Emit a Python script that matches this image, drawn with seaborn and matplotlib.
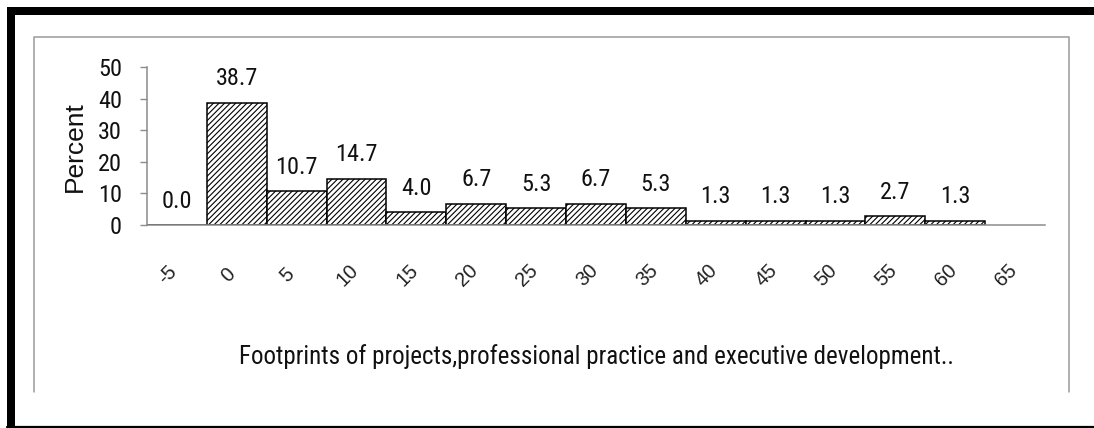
import matplotlib
matplotlib.use("Agg")
import matplotlib.pyplot as plt
from matplotlib.patches import Rectangle
from matplotlib.lines import Line2D
from matplotlib.transforms import ScaledTranslation
import seaborn as sns
import pandas as pd

# Distribution of footprints (bins of width 5) and share of respondents
bin_labels = ["-5", "0", "5", "10", "15", "20", "25", "30", "35", "40", "45", "50", "55", "60", "65"]
bar_bins = ["-5", "0", "5", "10", "15", "20", "25", "30", "35", "40", "45", "50", "55", "60"]
percents = [0.0, 38.7, 10.7, 14.7, 4.0, 6.7, 5.3, 6.7, 5.3, 1.3, 1.3, 1.3, 2.7, 1.3]
y_ticks = [0, 10, 20, 30, 40, 50]

sns.set_theme(style="white")
NARROW = ["Roboto Condensed", "Archivo Narrow", "Liberation Sans", "DejaVu Sans"]
REGULAR = ["Liberation Sans", "DejaVu Sans"]
plt.rcParams["font.family"] = NARROW
plt.rcParams["hatch.linewidth"] = 0.8

W, H = 1094, 428
fig = plt.figure(figsize=(W / 100, H / 100), dpi=100)
fig.patch.set_facecolor("white")

def fx(x):
    return x / W

def fy(y):
    return 1 - y / H

# outer black border (top, left and bottom edges)
fig.add_artist(Rectangle((fx(7), fy(15)), fx(W - 7), 8 / H, transform=fig.transFigure,
                         facecolor="black", edgecolor="none"))
fig.add_artist(Rectangle((fx(7), 0), 8 / W, fy(7), transform=fig.transFigure,
                         facecolor="black", edgecolor="none"))
fig.add_artist(Line2D([fx(7), 1], [fy(426.5), fy(426.5)], transform=fig.transFigure,
                      color="black", lw=1.6))

# grey chart-area frame, open at the bottom
frame_c = "#9a9a9a"
fig.add_artist(Line2D([fx(34), fx(34), fx(1069), fx(1069)],
                      [fy(392), fy(37), fy(37), fy(392)],
                      transform=fig.transFigure, color=frame_c, lw=1.1))

ax = fig.add_axes([fx(147), fy(225), fx(1045) - fx(147), (225 - 67) / H])
ax.set_facecolor("none")

df = pd.DataFrame({"bin": bar_bins, "percent": percents})
sns.barplot(data=df, x="bin", y="percent", order=bin_labels, color="white",
            saturation=1, width=1.0, edgecolor="black", linewidth=1.1,
            hatch="//////", ax=ax)

ax.bar_label(ax.containers[0], fmt="%.1f", padding=9, fontsize=17.5, color="#111111")

ax.set_ylim(0, 50)
ax.set_yticks(y_ticks)
ax.set_yticklabels([str(t) for t in y_ticks], fontsize=17.5, color="#111111")
ax.set_xlim(-0.5, len(bin_labels) - 0.5)

for side in ("top", "right"):
    ax.spines[side].set_visible(False)
for side in ("left", "bottom"):
    ax.spines[side].set_color("#8c8c8c")
    ax.spines[side].set_linewidth(1.1)
ax.spines["left"].set_bounds(0, 50)

ax.tick_params(axis="y", direction="out", length=5, width=1.0, color="#8c8c8c",
               pad=13, left=True)
ax.tick_params(axis="x", length=0, pad=36)

ax.set_xticks(range(len(bin_labels)))
ax.set_xticklabels(bin_labels, rotation=45, ha="center", va="center",
                   fontsize=14.5, color="#222222", family=REGULAR)
shift = ScaledTranslation(-9 / 100, 0, fig.dpi_scale_trans)
for lab in ax.get_xticklabels():
    lab.set_transform(lab.get_transform() + shift)

ax.set_xlabel("")
ax.set_ylabel("")
fig.text(fx(75), fy(147), "Percent", rotation=90, ha="center", va="center",
         fontsize=19, family=REGULAR, color="#111111")
fig.text(fx(596), fy(357),
         "Footprints of projects,professional practice and executive development..",
         ha="center", va="center", fontsize=18, color="#111111")

fig.savefig("out.png", dpi=100)
